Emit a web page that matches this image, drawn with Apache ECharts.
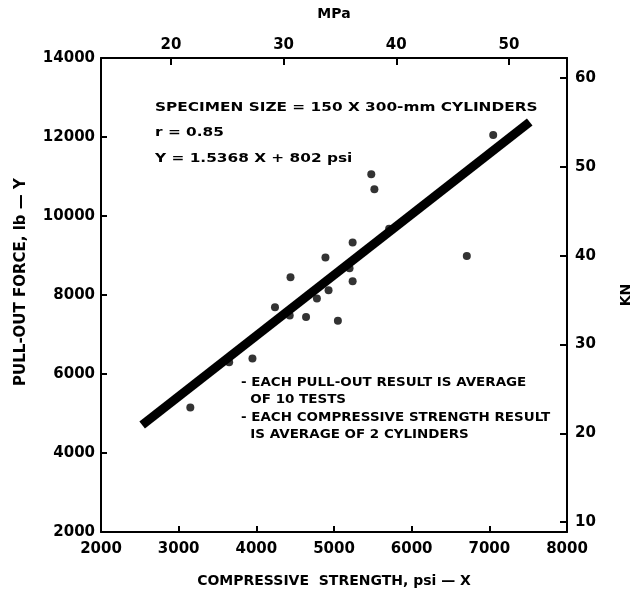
<!DOCTYPE html>
<html>
<head>
<meta charset="utf-8">
<script src="https://cdn.jsdelivr.net/npm/echarts@6/dist/echarts.min.js"></script>
<style>html,body{margin:0;padding:0;background:#fff}#c{width:641px;height:599px}</style>
</head>
<body>
<div id="c"></div>
<script>
// Data
var strengthPsi = [5480, 5520, 5710, 5240, 4890, 6710, 5200, 5240, 4440, 4930, 4780, 4240, 4430, 4640, 5050, 3950, 3650, 3150, 7050];
var pullOutLb  = [11060, 10680, 9680, 9330, 8950, 8990, 8680, 8350, 8450, 8120, 7910, 7690, 7480, 7440, 7350, 6390, 6300, 5150, 12050];
var fitX = [2530, 7520];
var fitY = [4710, 12380];
var xTicks = [2000, 3000, 4000, 5000, 6000, 7000, 8000];
var yTicks = [2000, 4000, 6000, 8000, 10000, 12000, 14000];
var mpaTicks = [20, 30, 40, 50];
var knTicks = [10, 20, 30, 40, 50, 60];
var headerLines = ['SPECIMEN SIZE = 150 X 300-mm CYLINDERS', 'r = 0.85', 'Y = 1.5368 X + 802 psi'];
var noteLines = ['- EACH PULL-OUT RESULT IS AVERAGE', '  OF 10 TESTS', '- EACH COMPRESSIVE STRENGTH RESULT', '  IS AVERAGE OF 2 CYLINDERS'];

var PSI_PER_MPA = 145.038;
var KN_PER_LB = 0.00444822;

var FONT = 'DejaVu Sans';
var points = strengthPsi.map(function (x, i) { return [x, pullOutLb[i]]; });
var fit = fitX.map(function (x, i) { return [x, fitY[i]]; });

var chart = echarts.init(document.getElementById('c'), null, {renderer: 'canvas'});
var axisLine = {show: true, lineStyle: {color: '#000', width: 2}};
var lbl = {color: '#000', fontFamily: FONT, fontWeight: 'bold', fontSize: 15, formatter: function (v) { return String(v); }};
var nameStyle = {color: '#000', fontFamily: FONT, fontWeight: 'bold', fontSize: 14};

var headerGraphics = headerLines.map(function (t, i) {
  return {type: 'text', left: 155, top: 101 + i * 25.5, scaleX: 1.18, style: {text: t, fill: '#000', font: 'bold 13px "' + FONT + '"'}};
});
var noteGraphics = noteLines.map(function (t, i) {
  return {type: 'text', left: 241, top: 377 + i * 17.5, scaleX: 1.17, style: {text: t, fill: '#000', font: 'bold 11.5px "' + FONT + '"'}};
});

chart.setOption({
  animation: false,
  backgroundColor: '#fff',
  grid: {left: 101, right: 68, top: 58, bottom: 67, containLabel: false},
  xAxis: [{
    type: 'value', position: 'bottom', min: 2000, max: 8000, interval: 1000,
    axisLine: axisLine, splitLine: {show: false},
    axisTick: {inside: true, length: 6, lineStyle: {color: '#000', width: 2}},
    axisLabel: Object.assign({margin: 10}, lbl),
    name: 'COMPRESSIVE  STRENGTH, psi — X', nameLocation: 'middle', nameGap: 42, nameTextStyle: nameStyle
  }, {
    type: 'value', position: 'top', min: 2000 / PSI_PER_MPA, max: 8000 / PSI_PER_MPA,
    axisLine: axisLine, splitLine: {show: false},
    axisTick: {inside: true, length: 7, customValues: mpaTicks, lineStyle: {color: '#000', width: 2}},
    axisLabel: Object.assign({margin: 5, customValues: mpaTicks}, lbl),
    name: 'MPa', nameLocation: 'middle', nameGap: 37, nameTextStyle: nameStyle
  }],
  yAxis: [{
    type: 'value', position: 'left', min: 2000, max: 14000, interval: 2000,
    axisLine: axisLine, splitLine: {show: false},
    axisTick: {inside: true, length: 6, lineStyle: {color: '#000', width: 2}},
    axisLabel: Object.assign({margin: 6}, lbl),
    name: 'PULL-OUT FORCE, lb — Y', nameLocation: 'middle', nameGap: 72, nameRotate: 90,
    nameTextStyle: Object.assign({}, nameStyle, {fontSize: 15, padding: [0, 0, 0, 26]})
  }, {
    type: 'value', position: 'right', min: 2000 * KN_PER_LB, max: 14000 * KN_PER_LB,
    axisLine: axisLine, splitLine: {show: false},
    axisTick: {inside: true, length: 7, customValues: knTicks, lineStyle: {color: '#000', width: 2}},
    axisLabel: Object.assign({margin: 8, customValues: knTicks}, lbl),
    name: 'KN', nameLocation: 'middle', nameGap: 52, nameRotate: 90, nameTextStyle: nameStyle
  }],
  series: [{
    type: 'line', xAxisIndex: 0, yAxisIndex: 0, data: fit, symbol: 'none',
    lineStyle: {color: '#000', width: 9, cap: 'butt'}, silent: true
  }, {
    type: 'scatter', xAxisIndex: 0, yAxisIndex: 0, data: points, symbol: 'circle', symbolSize: 8,
    itemStyle: {color: '#000'}
  }],
  graphic: headerGraphics.concat(noteGraphics)
});
</script>
</body>
</html>
